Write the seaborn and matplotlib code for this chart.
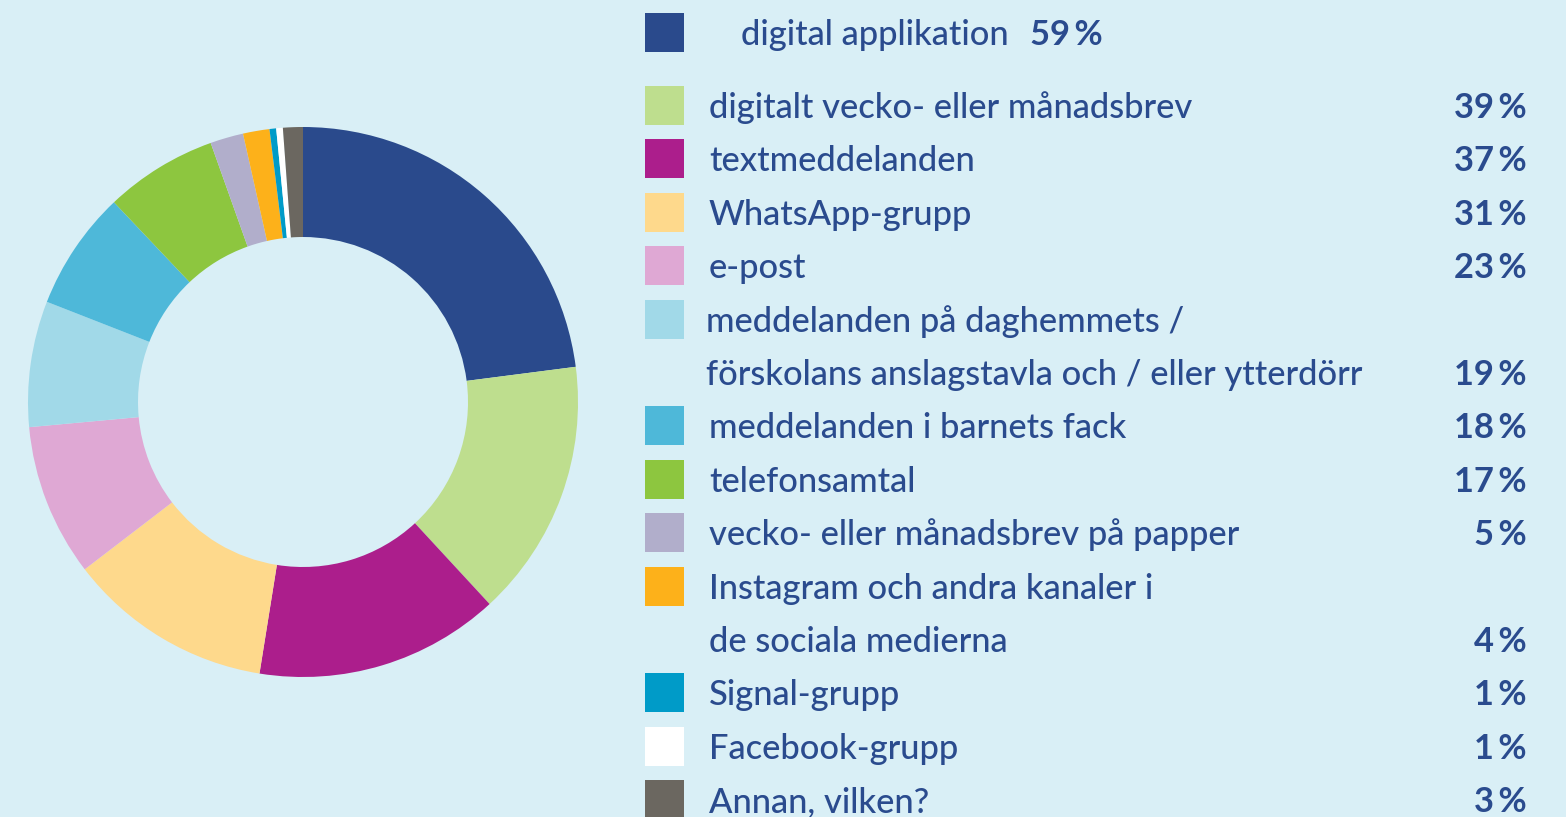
import matplotlib
matplotlib.use("Agg")
import matplotlib.pyplot as plt
import seaborn as sns
from matplotlib.patches import Rectangle

# data
labels = [
    "digital applikation",
    "digitalt vecko- eller månadsbrev",
    "textmeddelanden",
    "WhatsApp-grupp",
    "e-post",
    "meddelanden på daghemmets /\nförskolans anslagstavla och / eller ytterdörr",
    "meddelanden i barnets fack",
    "telefonsamtal",
    "vecko- eller månadsbrev på papper",
    "Instagram och andra kanaler i\nde sociala medierna",
    "Signal-grupp",
    "Facebook-grupp",
    "Annan, vilken?",
]
values = [59, 39, 37, 31, 23, 19, 18, 17, 5, 4, 1, 1, 3]
colors = [
    "#2A4A8C", "#BEDE8E", "#AC1E8C", "#FED98C", "#DFA8D4", "#A1D9E8",
    "#4EB8D9", "#8DC63F", "#B1AECB", "#FDB11A", "#009BC8", "#FFFFFF", "#6B6760",
]

BG = "#D9EFF6"
TXT = "#2A4B8E"
W, H = 1566, 817

sns.set_theme(style="white")
plt.rcParams["font.family"] = ["Lato", "DejaVu Sans"]

fig = plt.figure(figsize=(W / 100, H / 100), dpi=100, facecolor=BG)

# donut
cx, cy, r = 303, 402, 275
ax = fig.add_axes([(cx - r) / W, (H - cy - r) / H, 2 * r / W, 2 * r / H])
ax.set_facecolor(BG)
ax.pie(values, colors=colors, startangle=90, counterclock=False, radius=1,
       wedgeprops=dict(width=0.4, linewidth=0))
ax.set_xlim(-1, 1)
ax.set_ylim(-1, 1)
ax.set_aspect("equal")
ax.axis("off")

# legend drawn in pixel space
lg = fig.add_axes([0, 0, 1, 1])
lg.set_xlim(0, W)
lg.set_ylim(H, 0)
lg.axis("off")
lg.patch.set_alpha(0)

fs = 24.8
sq_x, sq_w = 645, 39
text_x = 709
pct_right = 1527
step = 53.4
base_off = 12.5
tkw = dict(fontsize=fs, color=TXT, va="baseline", fontweight="medium")

line = 0
for i, (lab, val, col) in enumerate(zip(labels, values, colors)):
    parts = lab.split("\n")
    if i == 0:
        yc = 32.5
        lg.add_patch(Rectangle((sq_x, yc - sq_w / 2), sq_w, sq_w, color=col, lw=0))
        lg.text(741, yc + base_off, parts[0], **tkw)
        lg.text(1030, yc + base_off, f"{val}\u2009%", fontsize=fs, color=TXT,
                fontweight="bold", va="baseline")
        continue
    yc = 105.5 + step * line
    lg.add_patch(Rectangle((sq_x, yc - sq_w / 2), sq_w, sq_w, color=col, lw=0))
    tx = 706 if lab.startswith("meddelanden på") else text_x
    for j, p in enumerate(parts):
        lg.text(tx, yc + step * j + base_off, p, **tkw)
    lg.text(pct_right, yc + step * (len(parts) - 1) + base_off, f"{val}\u2009%",
            fontsize=fs, color=TXT, fontweight="bold", ha="right", va="baseline")
    line += len(parts)

fig.savefig("out.png", dpi=100, facecolor=BG)
